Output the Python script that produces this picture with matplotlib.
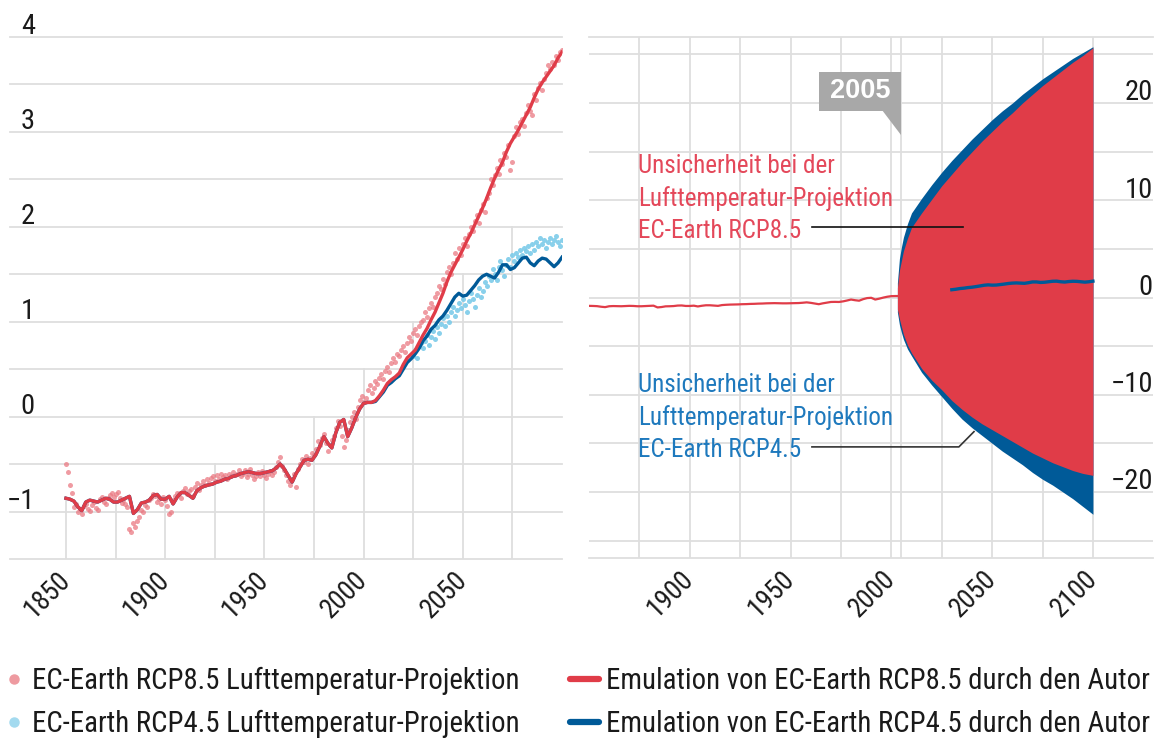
import numpy as np
import matplotlib
matplotlib.use("Agg")
import matplotlib.pyplot as plt
from matplotlib import font_manager
from matplotlib.font_manager import FontProperties
from matplotlib.lines import Line2D
from matplotlib.patches import Rectangle, Polygon

# ------------------------------------------------------------------ data
line_years = list(range(1850, 2101, 2))
rcp85_emul = [
    -0.86, -0.87, -0.89, -0.95, -0.99, -0.90, -0.88, -0.89, -0.90, -0.88,
    -0.86, -0.87, -0.90, -0.90, -0.88, -0.86, -0.84, -1.02, -0.98, -0.91,
    -0.90, -0.88, -0.83, -0.82, -0.87, -0.87, -0.84, -0.92, -0.85, -0.80,
    -0.80, -0.83, -0.86, -0.78, -0.75, -0.73, -0.72, -0.71, -0.69, -0.68,
    -0.66, -0.65, -0.63, -0.62, -0.60, -0.59, -0.58, -0.59, -0.60, -0.60,
    -0.59, -0.58, -0.57, -0.54, -0.50, -0.55, -0.62, -0.69, -0.60, -0.53,
    -0.46, -0.45, -0.46, -0.40, -0.31, -0.21, -0.28, -0.33, -0.17, -0.06,
    -0.03, -0.21, -0.12, -0.01, 0.08, 0.14, 0.15, 0.15, 0.17, 0.22,
    0.28, 0.35, 0.39, 0.42, 0.46, 0.55, 0.62, 0.66, 0.70, 0.78,
    0.86, 0.93, 1.02, 1.10, 1.20, 1.30, 1.42, 1.52, 1.60, 1.68,
    1.76, 1.85, 1.93, 2.02, 2.11, 2.20, 2.30, 2.41, 2.51, 2.60,
    2.68, 2.79, 2.88, 2.95, 3.02, 3.10, 3.18, 3.26, 3.36, 3.45,
    3.52, 3.58, 3.64, 3.70, 3.78, 3.84,
]
rcp45_emul_years = list(range(2006, 2101, 2))
rcp45_emul_tail = [
    0.16, 0.21, 0.26, 0.33, 0.36, 0.40, 0.43, 0.50, 0.57, 0.61,
    0.66, 0.72, 0.80, 0.85, 0.92, 0.96, 1.02, 1.06, 1.12, 1.19,
    1.26, 1.30, 1.27, 1.28, 1.33, 1.38, 1.44, 1.48, 1.50, 1.48,
    1.46, 1.52, 1.60, 1.60, 1.55, 1.57, 1.62, 1.67, 1.68, 1.62,
    1.59, 1.64, 1.67, 1.66, 1.62, 1.58, 1.62, 1.68,
]

dot_years_85 = list(range(1850, 2101))
rcp85_proj = [
    -0.50, -0.58, -0.72, -0.80, -0.95, -0.92, -1.00, -0.97, -1.03, -0.94,
    -0.92, -0.97, -0.99, -0.93, -0.90, -0.96, -0.98, -0.87, -0.85, -0.90,
    -0.92, -0.86, -0.83, -0.80, -0.85, -0.82, -0.79, -0.86, -0.91, -0.88,
    -0.92, -0.95, -1.18, -1.22, -1.12, -1.16, -1.10, -1.06, -0.98, -1.00,
    -0.93, -0.95, -0.88, -0.86, -0.82, -0.84, -0.90, -0.87, -0.92, -0.85,
    -0.88, -0.94, -1.03, -1.00, -0.88, -0.84, -0.80, -0.82, -0.86, -0.78,
    -0.75, -0.82, -0.78, -0.76, -0.84, -0.74, -0.70, -0.77, -0.72, -0.68,
    -0.72, -0.66, -0.70, -0.65, -0.63, -0.68, -0.62, -0.66, -0.60, -0.64,
    -0.61, -0.66, -0.60, -0.63, -0.58, -0.62, -0.60, -0.56, -0.63, -0.60,
    -0.56, -0.64, -0.60, -0.55, -0.62, -0.66, -0.63, -0.58, -0.63, -0.57,
    -0.61, -0.65, -0.60, -0.57, -0.62, -0.58, -0.53, -0.48, -0.43, -0.52,
    -0.56, -0.62, -0.68, -0.72, -0.66, -0.60, -0.74, -0.55, -0.50, -0.45,
    -0.48, -0.42, -0.50, -0.44, -0.38, -0.40, -0.34, -0.26, -0.30, -0.22,
    -0.18, -0.28, -0.36, -0.30, -0.25, -0.20, -0.12, -0.05, -0.10, -0.20,
    -0.32, -0.25, -0.14, -0.06, 0.00, 0.05, -0.02, 0.10, 0.18, 0.22,
    0.15, 0.20, 0.28, 0.33, 0.25, 0.30, 0.38, 0.34, 0.41, 0.45,
    0.40, 0.48, 0.52, 0.47, 0.56, 0.62, 0.58, 0.66, 0.64, 0.70,
    0.74, 0.68, 0.78, 0.84, 0.80, 0.88, 0.92, 0.86, 0.95, 1.00,
    1.02, 1.10, 1.05, 1.14, 1.20, 1.16, 1.26, 1.30, 1.38, 1.34,
    1.45, 1.40, 1.52, 1.58, 1.50, 1.62, 1.72, 1.66, 1.78, 1.70,
    1.82, 1.88, 1.80, 1.92, 2.00, 1.96, 2.06, 2.12, 2.04, 2.18,
    2.24, 2.16, 2.30, 2.36, 2.50, 2.44, 2.55, 2.62, 2.56, 2.70,
    2.66, 2.78, 2.74, 2.86, 2.60, 2.68, 2.96, 3.05, 2.98, 3.10,
    3.14, 3.06, 3.20, 3.28, 3.22, 3.18, 3.40, 3.34, 3.46, 3.52,
    3.44, 3.56, 3.62, 3.70, 3.66, 3.74, 3.70, 3.80, 3.76, 3.84,
    3.86,
]
dot_years_45 = list(range(2025, 2101))
rcp45_proj = [
    0.64, 0.70, 0.62, 0.74, 0.78, 0.72, 0.80, 0.86, 0.76, 0.84,
    0.90, 0.82, 0.94, 0.88, 0.98, 1.04, 0.96, 1.06, 1.00, 1.10,
    1.16, 1.06, 1.12, 1.20, 1.14, 1.24, 1.18, 1.10, 1.22, 1.30,
    1.24, 1.16, 1.28, 1.36, 1.26, 1.32, 1.42, 1.38, 1.48, 1.44,
    1.56, 1.50, 1.44, 1.58, 1.64, 1.54, 1.48, 1.60, 1.66, 1.58,
    1.70, 1.64, 1.72, 1.68, 1.76, 1.70, 1.78, 1.74, 1.80, 1.72,
    1.82, 1.76, 1.84, 1.80, 1.88, 1.82, 1.86, 1.78, 1.84, 1.88,
    1.82, 1.86, 1.90, 1.84, 1.80, 1.86,
]

env_years = [2003, 2004, 2005, 2006, 2008, 2010, 2015, 2020, 2025, 2030, 2035, 2040,
             2045, 2050, 2055, 2060, 2065, 2070, 2075, 2080, 2085, 2090, 2095, 2100]
unc45_upper = [1.5, 4.0, 5.2, 6.2, 7.6, 8.7, 10.2, 11.6, 12.9, 14.1, 15.2, 16.3,
               17.3, 18.3, 19.2, 20.0, 20.9, 21.7, 22.5, 23.2, 23.9, 24.6, 25.2, 25.8]
unc45_lower = [-1.5, -2.8, -3.6, -4.3, -5.3, -6.0, -7.7, -9.0, -10.2, -11.4, -12.5, -13.4,
               -14.2, -15.0, -15.8, -16.5, -17.2, -18.0, -18.7, -19.3, -20.0, -20.7, -21.5, -22.3]
unc85_upper = [1.0, 2.8, 3.8, 4.8, 6.1, 7.2, 8.7, 10.1, 11.5, 12.7, 13.9, 15.0,
               16.1, 17.1, 18.1, 19.0, 20.0, 20.9, 21.8, 22.6, 23.4, 24.2, 24.9, 25.7]
unc85_lower = [-1.2, -2.2, -3.0, -3.8, -4.9, -5.7, -7.3, -8.5, -9.5, -10.6, -11.5, -12.3,
               -13.0, -13.6, -14.2, -14.8, -15.4, -16.0, -16.5, -17.0, -17.4, -17.8, -18.1, -18.3]

left_xticks = [1850, 1900, 1950, 2000, 2050]
right_xticks = [1900, 1950, 2000, 2050, 2100]
left_yticks = [-1, 0, 1, 2, 3, 4]
right_yticks = [20, 10, 0, -10, -20]
mark_year = 2005

legend_labels = [
    "EC-Earth RCP8.5 Lufttemperatur-Projektion",
    "EC-Earth RCP4.5 Lufttemperatur-Projektion",
    "Emulation von EC-Earth RCP8.5 durch den Autor",
    "Emulation von EC-Earth RCP4.5 durch den Autor",
]
anno85 = ["Unsicherheit bei der", "Lufttemperatur-Projektion", "EC-Earth RCP8.5"]
anno45 = ["Unsicherheit bei der", "Lufttemperatur-Projektion", "EC-Earth RCP4.5"]

# ------------------------------------------------------------------ fonts / style
avail = {f.name for f in font_manager.fontManager.ttflist}
MAIN = "Roboto Condensed" if "Roboto Condensed" in avail else "Roboto"
WIDE = "Liberation Sans"


def fp(size, weight="normal", family=None):
    return FontProperties(family=[family or MAIN, "DejaVu Sans"], size=size, weight=weight)


GRID = "#dedede"
RED = "#e03c48"
BLUE = "#005a98"
RED_DOT = "#ea7a83"
BLUE_DOT = "#7ccbe9"
RED_TXT = "#e4485a"
BLUE_TXT = "#1e79bd"
INK = "#1a1a1a"

# top end of each vertical grid line in the left panel (style, not data)
left_vgrid_years = list(range(1850, 2076, 25))
left_vgrid_tops = [-0.86, -0.88, -0.87, -0.5, -0.5, 0.0, 0.5, 1.0, 1.5, 2.0]

W, H = 1157, 740
fig = plt.figure(figsize=(W / 100, H / 100), dpi=100)


def rect(x0, y0, x1, y1):
    return [x0 / W, 1 - y1 / H, (x1 - x0) / W, (y1 - y0) / H]


axL = fig.add_axes(rect(10, 37, 562, 559))
axR = fig.add_axes(rect(589, 37, 1153, 558))
for ax in (axL, axR):
    for s in ax.spines.values():
        s.set_visible(False)
    ax.set_yticks([])
    ax.tick_params(length=0)

# ---------------- left panel
yl0, yl1 = -1.5, 4.0
axL.set_xlim(1821.8, 2100)
axL.set_ylim(yl0, yl1)
for v in np.arange(yl0, yl1 + 0.01, 0.5):
    axL.axhline(v, color=GRID, lw=1.3, zorder=0, clip_on=False)
for yr, top in zip(left_vgrid_years, left_vgrid_tops):
    axL.axvline(yr, ymin=0, ymax=(top - yl0) / (yl1 - yl0), color=GRID, lw=1.3, zorder=0)

n_hist = sum(1 for y in line_years if y <= 2004)
years45 = line_years[:n_hist] + rcp45_emul_years
vals45 = rcp85_emul[:n_hist] + rcp45_emul_tail

axL.scatter(dot_years_85, rcp85_proj, s=13, color=RED_DOT, alpha=0.75, lw=0, zorder=2)
axL.scatter(dot_years_45, rcp45_proj, s=13, color=BLUE_DOT, alpha=0.9, lw=0, zorder=2)
axL.plot(years45, vals45, color=BLUE, lw=2.4, zorder=3, solid_joinstyle="round")
axL.plot(line_years, rcp85_emul, color=RED, lw=2.4, zorder=4, solid_joinstyle="round")

axL.set_xticks(left_xticks)
axL.set_xticklabels([str(t) for t in left_xticks], rotation=45, ha="right", va="center",
                    rotation_mode="anchor", fontproperties=fp(19.5), color=INK)
axL.tick_params(axis="x", pad=12)
for v in left_yticks:
    lab = str(v).replace("-", "\u2212")
    axL.annotate(lab, xy=(0, v), xycoords=("axes fraction", "data"), xytext=(18, 2),
                 textcoords="offset points", ha="right", va="baseline",
                 fontproperties=fp(20.5), color=INK, zorder=6)

# ---------------- right panel
axR.set_xlim(1850, 2129.8)
axR.set_ylim(-26.8, 26.8)
for v in range(-25, 26, 5):
    axR.axhline(v, color=GRID, lw=1.3, zorder=0)
for v in (-26.8, 26.8):
    axR.axhline(v, color=GRID, lw=1.3, zorder=0, clip_on=False)
for yr in list(range(1875, 2101, 25)) + [mark_year]:
    axR.axvline(yr, color=GRID, lw=1.3, zorder=0)

axR.fill_between(env_years, unc45_lower, unc45_upper, color=BLUE, lw=0, zorder=2)
axR.fill_between(env_years, unc85_lower, unc85_upper, color=RED, lw=0, zorder=3)
hy = [y for y in line_years if y <= 2004]
axR.plot(hy, rcp85_emul[:len(hy)], color=RED, lw=1.6, zorder=4)
ty = [(y, v) for y, v in zip(rcp45_emul_years, rcp45_emul_tail) if y >= 2030]
axR.plot([a for a, _ in ty], [b for _, b in ty], color=BLUE, lw=2.4, zorder=5)

axR.set_xticks(right_xticks)
axR.set_xticklabels([str(t) for t in right_xticks], rotation=45, ha="right", va="center",
                    rotation_mode="anchor", fontproperties=fp(19.5), color=INK)
axR.tick_params(axis="x", pad=12)
for v in right_yticks:
    lab = str(v).replace("-", "\u2212")
    axR.annotate(lab, xy=(1, v), xycoords=("axes fraction", "data"), xytext=(0, 2),
                 textcoords="offset points", ha="right", va="baseline",
                 fontproperties=fp(20.5), color=INK, zorder=6)

# 2005 marker box
axR.add_patch(Rectangle((mark_year - 41.1, 19.2), 40.9, 4.05, color="#a8a8a8", lw=0, zorder=6))
axR.add_patch(Polygon([(mark_year - 9.7, 19.25), (mark_year - 0.2, 19.25), (mark_year - 0.2, 16.7)],
                      closed=True, color="#a8a8a8", lw=0, zorder=6))
axR.text(mark_year - 20.6, 21.2, str(mark_year), ha="center", va="center", color="white",
         fontproperties=fp(19.5, "bold", WIDE), zorder=7)

# uncertainty annotations
for i, t in enumerate(anno85):
    axR.text(1874.3, [12.82, 9.42, 6.13][i], t, ha="left", va="baseline", color=RED_TXT,
             fontproperties=fp(18.1), zorder=7)
for i, t in enumerate(anno45):
    axR.text(1874.3, [-9.73, -13.13, -16.43][i], t, ha="left", va="baseline", color=BLUE_TXT,
             fontproperties=fp(18.1), zorder=7)
axR.plot([1960.6, 2035.5], [7.26, 7.26], color="#111111", lw=1.2, zorder=7)
axR.plot([1960.6, 2033.5, 2041.0], [-15.37, -15.37, -13.8], color="#333333", lw=1.2, zorder=7)

# ---------------- legend (figure coordinates)
def fx(px):
    return px / W


def fy(py):
    return 1 - py / H


rows = [679, 722]
fig.add_artist(Line2D([fx(14)], [fy(rows[0])], marker="o", ms=6.5, color="#ee9aa0", lw=0))
fig.add_artist(Line2D([fx(14)], [fy(rows[1])], marker="o", ms=6.5, color="#a3daef", lw=0))
fig.add_artist(Line2D([fx(570), fx(599)], [fy(rows[0])] * 2, color=RED, lw=4.5, solid_capstyle="round"))
fig.add_artist(Line2D([fx(570), fx(599)], [fy(rows[1])] * 2, color=BLUE, lw=4.5, solid_capstyle="round"))
for (x, r), lab in zip([(32, 0), (32, 1), (606, 0), (606, 1)], legend_labels):
    fig.text(fx(x), fy(rows[r] + 10), lab, ha="left", va="baseline", color=INK,
             fontproperties=fp(20.7))

fig.savefig("out.png", dpi=100)
